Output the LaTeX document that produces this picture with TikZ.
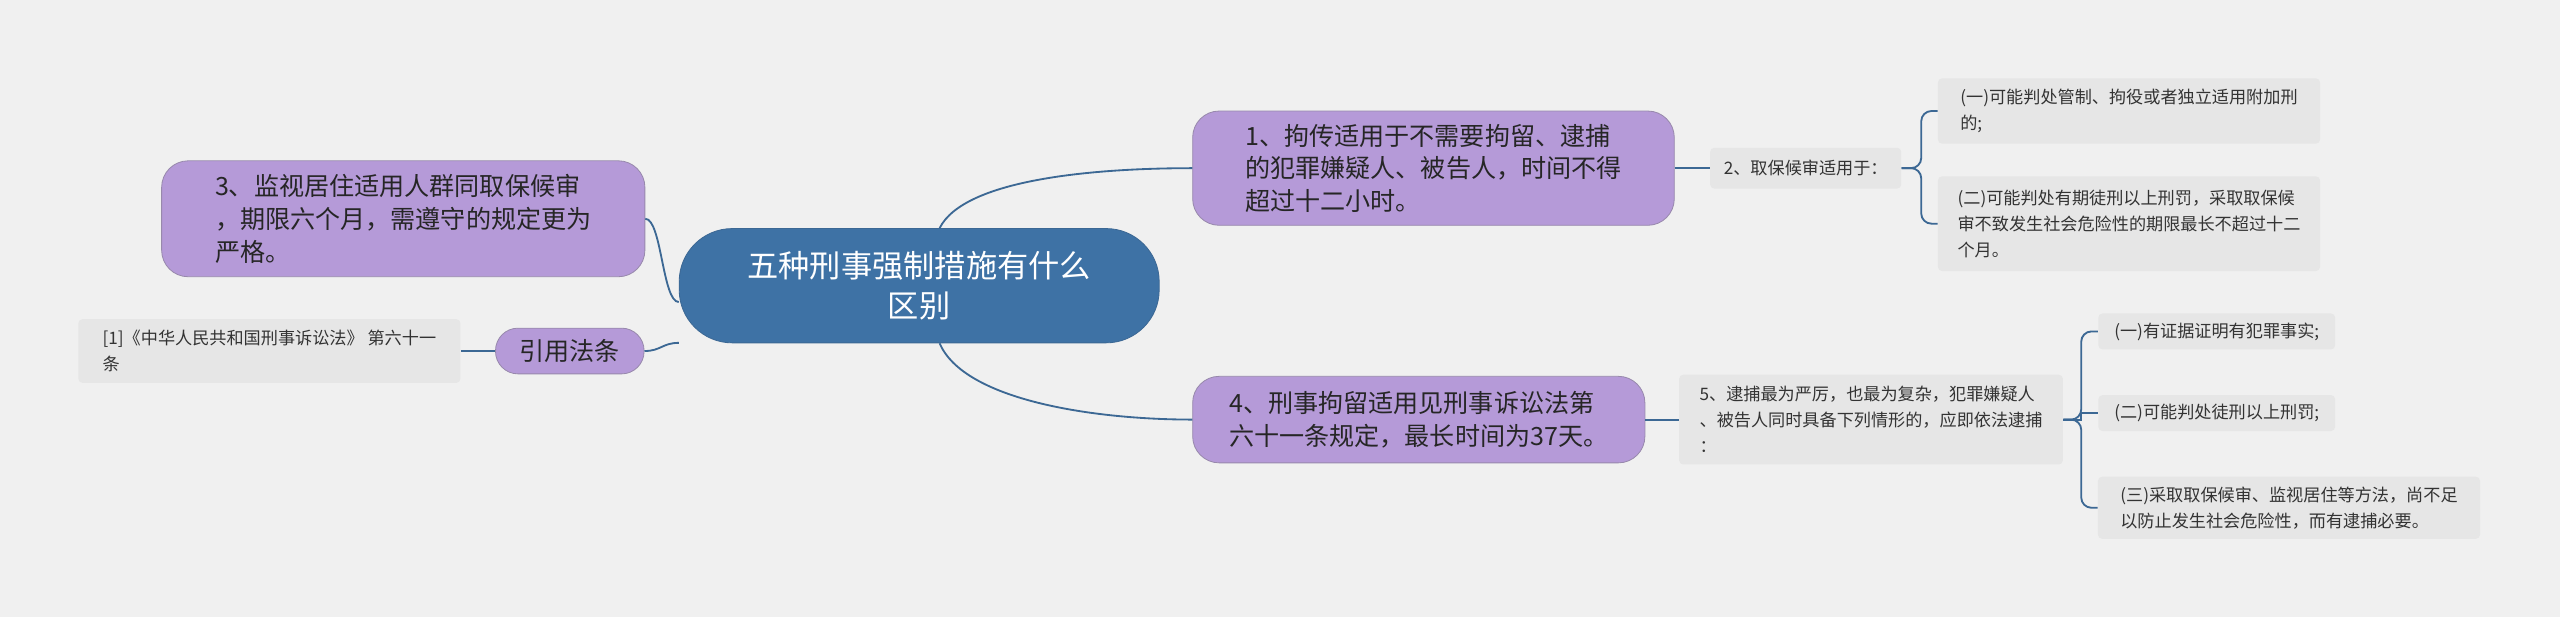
\documentclass[tikz,border=0pt]{standalone}
\usepackage{fontspec}
\setmainfont{Noto Sans CJK SC}
\begin{document}
\begin{tikzpicture}[x=0.8pt,y=-0.8pt,
  lav/.style={draw=#1!70!black!80,fill=#1,rounded corners=13pt,align=left,inner xsep=8pt,inner ysep=4pt,font=\fontsize{12.3}{16}\selectfont,text=black!85},
  lav/.default=lavc,
  gry/.style={fill=gbox,rounded corners=2pt,align=left,inner sep=3pt,font=\fontsize{8.4}{12.8}\selectfont,text=black!80},
  ln/.style={draw=lnc,line width=0.9pt},
  ]
\definecolor{lavc}{HTML}{B59AD8}
\definecolor{gbox}{HTML}{E6E6E6}
\definecolor{lnc}{HTML}{3C6894}
\definecolor{ctrc}{HTML}{3E72A5}
\definecolor{bgc}{HTML}{F0F0F0}
\fill[bgc] (0,0) rectangle (1568,378);
\useasboundingbox (0,0) rectangle (1568,378);
\node[draw=lnc,fill=ctrc,rounded corners=26pt,text=white,align=center,minimum width=294*0.8pt,minimum height=70*0.8pt,font=\fontsize{15.3}{19.5}\selectfont] (ctr) at (563,175) {五种刑事强制措施有什么\\区别};
\node[lav,minimum width=295*0.8pt,minimum height=70*0.8pt] (A) at (878,103) {1、拘传适用于不需要拘留、逮捕\\的犯罪嫌疑人、被告人，时间不得\\超过十二小时。};
\node[gry,minimum width=117*0.8pt,minimum height=25*0.8pt] (B) at (1106,103) {2、取保候审适用于：};
\node[gry,minimum width=234*0.8pt,minimum height=40*0.8pt] (B1) at (1304,68) {(一)可能判处管制、拘役或者独立适用附加刑\\的;};
\node[gry,minimum width=234*0.8pt,minimum height=58*0.8pt] (B2) at (1304,137) {(二)可能判处有期徒刑以上刑罚，采取取保候\\审不致发生社会危险性的期限最长不超过十二\\个月。};
\node[lav,minimum width=277*0.8pt,minimum height=53*0.8pt] (C) at (869,257) {4、刑事拘留适用见刑事诉讼法第\\六十一条规定，最长时间为37天。};
\node[gry,minimum width=235*0.8pt,minimum height=55*0.8pt] (D) at (1146,257) {5、逮捕最为严厉，也最为复杂，犯罪嫌疑人\\、被告人同时具备下列情形的，应即依法逮捕\\：};
\node[gry,minimum width=145*0.8pt,minimum height=22*0.8pt,anchor=west] (D1) at (1285,203) {(一)有证据证明有犯罪事实;};
\node[gry,minimum width=145*0.8pt,minimum height=22*0.8pt,anchor=west] (D2) at (1285,253) {(二)可能判处徒刑以上刑罚;};
\node[gry,minimum width=234*0.8pt,minimum height=38*0.8pt] (D3) at (1402,311) {(三)采取取保候审、监视居住等方法，尚不足\\以防止发生社会危险性，而有逮捕必要。};
\node[lav,minimum width=296*0.8pt,minimum height=71*0.8pt] (E) at (247,134) {3、监视居住适用人群同取保候审\\，期限六个月，需遵守的规定更为\\严格。};
\node[lav,rounded corners=11pt,minimum width=91*0.8pt,minimum height=28*0.8pt,inner ysep=2pt] (F) at (349,215) {引用法条};
\node[gry,minimum width=234*0.8pt,minimum height=39*0.8pt] (G) at (165,215) {[1]《中华人民共和国刑事诉讼法》 第六十一\\条};
% edges
\draw[ln] ([xshift=10pt]ctr.north) .. controls +(15,-30) and +(-60,0) .. (A.west);
\draw[ln] ([xshift=10pt]ctr.south) .. controls +(15,35) and +(-60,0) .. (C.west);
\draw[ln] ([yshift=-8pt]ctr.west) .. controls +(-10,0) and +(10,0) .. (E.east);
\draw[ln] ([yshift=-28pt]ctr.west) .. controls +(-10,0) and +(10,0) .. (F.east);
\draw[ln] (F.west) -- (G.east);
\draw[ln] (A.east) -- (B.west);
\draw[ln] (C.east) -- (D.west);
\draw[ln,rounded corners=5pt] (B.east) -- ++(12,0) |- (B1.west);
\draw[ln,rounded corners=5pt] (B.east) -- ++(12,0) |- (B2.west);
\draw[ln,rounded corners=5pt] (D.east) -- ++(11,0) |- (D1.west);
\draw[ln] (D.east) -- ++(11,0) |- (D2.west);
\draw[ln,rounded corners=5pt] (D.east) -- ++(11,0) |- (D3.west);
\end{tikzpicture}
\end{document}
